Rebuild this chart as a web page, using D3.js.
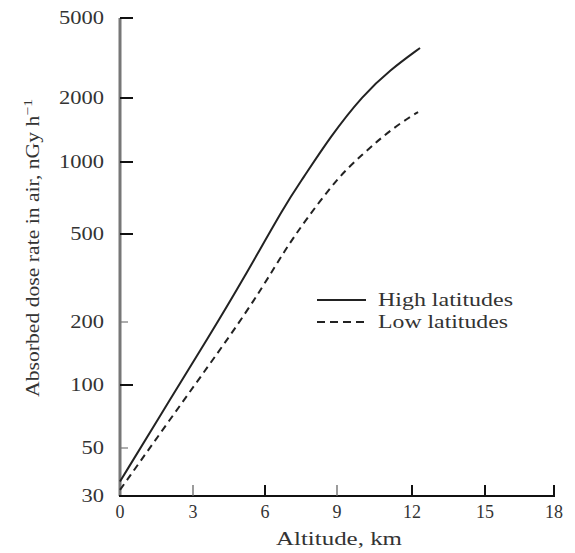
<!DOCTYPE html>
<html>
<head>
<meta charset="utf-8">
<script src="https://cdn.jsdelivr.net/npm/d3@7"></script>
<style>
  html, body { margin: 0; padding: 0; background: #fff; }
  svg { display: block; }
  text { font-family: "Liberation Serif", "DejaVu Serif", serif; fill: #333; }
</style>
</head>
<body>
<svg id="chart" width="575" height="553"></svg>
<script>
// ---- data ----
const xTicks = [0, 3, 6, 9, 12, 15, 18];
const xMinorTicks = [3, 9];
const yTicks = [30, 50, 100, 200, 500, 1000, 2000, 5000];
const yMinorTicks = [50, 200];

const highAlt  = [0, 2.05, 3.63, 5.08, 6.88, 7.54, 8.71, 10.04, 11.12, 12.33];
const highDose = [35, 85, 168, 310, 674, 841, 1311, 2069, 2756, 3546];
const lowAlt   = [0, 2.63, 4.63, 5.88, 6.83, 7.75, 9.12, 10.0, 10.8, 11.6, 12.25];
const lowDose  = [32, 85, 177, 285, 423, 583, 882, 1079, 1311, 1542, 1718];

const seriesNames = ["High latitudes", "Low latitudes"];
const xTitle = "Altitude, km";

// ---- scales (piecewise to follow the scanned axis) ----
const x = d3.scaleLinear()
  .domain(xTicks)
  .range([120, 193, 265, 337, 412, 485, 554]);
const y = d3.scaleLog()
  .domain(yTicks)
  .range([496, 448, 385, 322, 234, 162, 98, 18]);

const svg = d3.select("#chart");

// y axis line
svg.append("line")
  .attr("x1", x(0)).attr("x2", x(0))
  .attr("y1", y(5000)).attr("y2", y(30))
  .attr("stroke", "#777").attr("stroke-width", 3);

// x axis line
svg.append("line")
  .attr("x1", x(0) - 1).attr("x2", x(18) + 1)
  .attr("y1", y(30)).attr("y2", y(30))
  .attr("stroke", "#111").attr("stroke-width", 2);

// y ticks (inward)
svg.selectAll(".ytick").data(yTicks.filter(d => d !== 30)).enter().append("line")
  .attr("x1", x(0)).attr("x2", d => x(0) + (yMinorTicks.includes(d) ? 8 : 13))
  .attr("y1", d => y(d)).attr("y2", d => y(d))
  .attr("stroke", d => yMinorTicks.includes(d) ? "#777" : "#111")
  .attr("stroke-width", d => yMinorTicks.includes(d) ? 1.2 : 2);

// x ticks (inward)
svg.selectAll(".xtick").data(xTicks.filter(d => d !== 0)).enter().append("line")
  .attr("x1", d => x(d)).attr("x2", d => x(d))
  .attr("y1", y(30)).attr("y2", y(30) - 11)
  .attr("stroke", d => xMinorTicks.includes(d) ? "#666" : "#111")
  .attr("stroke-width", d => xMinorTicks.includes(d) ? 1.3 : 2);

// y tick labels
const yl = svg.selectAll(".ylab").data(yTicks).enter().append("text")
  .attr("x", 104).attr("y", d => y(d))
  .attr("dy", "0.35em")
  .attr("text-anchor", "end")
  .attr("font-size", 18)
  .text(d => d);
yl.each(function() {
  const w = this.getComputedTextLength();
  d3.select(this).attr("textLength", w * 1.25).attr("lengthAdjust", "spacingAndGlyphs");
});

// x tick labels
svg.selectAll(".xlab").data(xTicks).enter().append("text")
  .attr("x", d => x(d)).attr("y", 518)
  .attr("text-anchor", "middle")
  .attr("font-size", 18)
  .text(d => d);

// x title
svg.append("text")
  .attr("x", 339).attr("y", 545)
  .attr("text-anchor", "middle")
  .attr("font-size", 18)
  .attr("textLength", 126).attr("lengthAdjust", "spacingAndGlyphs")
  .text(xTitle);

// y title
const yt = svg.append("text")
  .attr("transform", "translate(39,248) rotate(-90)")
  .attr("text-anchor", "middle")
  .attr("font-size", 18)
  .attr("textLength", 298).attr("lengthAdjust", "spacingAndGlyphs");
yt.append("tspan").text("Absorbed dose rate in air, nGy h");
yt.append("tspan").attr("dy", -7).attr("font-size", 13).text("\u22121");

// curves
const line = d3.line()
  .x(d => x(d[0]))
  .y(d => y(d[1]))
  .curve(d3.curveBasis);

const highData = d3.zip(highAlt, highDose);
const lowData = d3.zip(lowAlt, lowDose);

svg.append("path")
  .attr("d", line(highData))
  .attr("fill", "none").attr("stroke", "#222").attr("stroke-width", 2);

svg.append("path")
  .attr("d", line(lowData))
  .attr("fill", "none").attr("stroke", "#222").attr("stroke-width", 2)
  .attr("stroke-dasharray", "7,5");

// legend
const legend = [
  { name: seriesNames[0], dash: null, y: 300 },
  { name: seriesNames[1], dash: "8,5", y: 322 }
];
legend.forEach(l => {
  svg.append("line")
    .attr("x1", 317).attr("x2", 366)
    .attr("y1", l.y).attr("y2", l.y)
    .attr("stroke", "#222").attr("stroke-width", 2)
    .attr("stroke-dasharray", l.dash);
  svg.append("text")
    .attr("x", 378).attr("y", l.y)
    .attr("dy", "0.35em")
    .attr("font-size", 18)
    .attr("textLength", l.name === seriesNames[0] ? 135 : 130)
    .attr("lengthAdjust", "spacingAndGlyphs")
    .text(l.name);
});
</script>
</body>
</html>
